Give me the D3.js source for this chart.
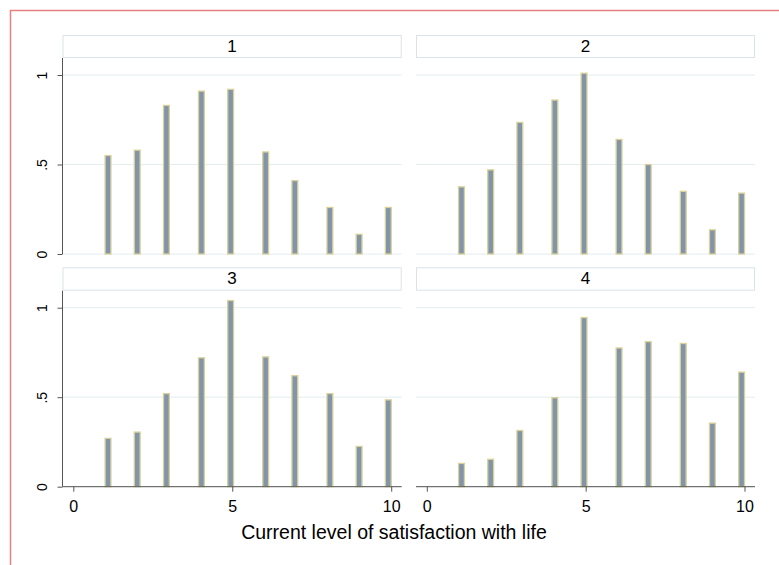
<!DOCTYPE html>
<html>
<head>
<meta charset="utf-8">
<script src="https://cdn.jsdelivr.net/npm/d3@7"></script>
<style>
  body { margin: 0; background: #fff; overflow: hidden; }
  text { font-family: "Liberation Sans", Arial, sans-serif; }
</style>
</head>
<body>
<div id="chart"></div>
<script>
// Dati: istogramma (densità) per gruppo, valori 1..10
var groups = ["1", "2", "3", "4"];
var levels = [1, 2, 3, 4, 5, 6, 7, 8, 9, 10];
var dens1 = [0.55, 0.58, 0.83, 0.91, 0.92, 0.57, 0.41, 0.26, 0.11, 0.26];
var dens2 = [0.375, 0.47, 0.735, 0.86, 1.01, 0.64, 0.50, 0.35, 0.135, 0.34];
var dens3 = [0.27, 0.305, 0.52, 0.72, 1.04, 0.725, 0.62, 0.52, 0.225, 0.485];
var dens4 = [0.13, 0.153, 0.314, 0.497, 0.945, 0.775, 0.81, 0.80, 0.355, 0.64];
var seriesValues = [dens1, dens2, dens3, dens4];
var xTicks = [0, 5, 10];
var yTicks = [0, 0.5, 1];
var yTickLabels = ["0", ".5", "1"];
var binStart = 1, binEnd = 10, nBins = 49;

var W = 779, H = 565;
var binW = (binEnd - binStart) / nBins;
function binMid(v) {
  var i = Math.min(nBins - 1, Math.floor((v - binStart) / binW));
  return binStart + (i + 0.5) * binW;
}

var svg = d3.select("#chart").append("svg")
  .attr("width", W).attr("height", H)
  .style("display", "block");

// bordo rosso esterno
svg.append("rect")
  .attr("x", 10.5).attr("y", 10.5)
  .attr("width", 900).attr("height", 700)
  .attr("fill", "none")
  .attr("stroke", "#e87f80")
  .attr("stroke-width", 1.5);

var cols = [[62.5, 401.7], [416, 755]];
var rows = [{head: 35, top: 58, bottom: 254}, {head: 267.3, top: 290.7, bottom: 486.7}];

groups.forEach(function(g, k) {
  var c = cols[k % 2], r = rows[Math.floor(k / 2)];
  var x = d3.scaleLinear().domain([-0.34, 10.33]).range(c);
  var y = d3.scaleLinear().domain([0, 1.095]).range([r.bottom, r.top]);
  var p = svg.append("g");

  // intestazione del pannello
  p.append("rect")
    .attr("x", c[0] + 0.5).attr("y", r.head + 0.5)
    .attr("width", c[1] - c[0] - 1).attr("height", r.top - r.head - 1)
    .attr("fill", "#fff")
    .attr("stroke", "#d9e4ea");
  p.append("text")
    .attr("x", (c[0] + c[1]) / 2).attr("y", r.head + 16.8)
    .attr("text-anchor", "middle")
    .style("font-size", "17px")
    .text(g);

  // griglia
  p.selectAll(".grid").data(yTicks).enter().append("line")
    .attr("x1", c[0]).attr("x2", c[1])
    .attr("y1", function(d) { return y(d); })
    .attr("y2", function(d) { return y(d); })
    .attr("stroke", "#e3ecef")
    .attr("stroke-width", 1);

  // barre
  p.selectAll(".bar").data(levels).enter().append("rect")
    .attr("x", function(d) { return x(binMid(d) - binW / 2); })
    .attr("width", x(binW) - x(0))
    .attr("y", function(d, i) { return y(seriesValues[k][i]); })
    .attr("height", function(d, i) { return y(0) - y(seriesValues[k][i]); })
    .attr("fill", "#8194ab")
    .attr("stroke", "#d9d196")
    .attr("stroke-width", 1.3);

  // asse Y solo a sinistra
  if (k % 2 === 0) {
    var ay = p.append("g")
      .attr("transform", "translate(" + c[0] + ",0)")
      .call(d3.axisLeft(y).tickValues(yTicks).tickSize(5).tickFormat(function(d, i) { return yTickLabels[i]; }));
    ay.select(".domain").attr("stroke", "#555").attr("d", "M0," + r.top + "V" + r.bottom);
    ay.selectAll(".tick line").attr("stroke", "#555");
    ay.selectAll(".tick text")
      .attr("transform", "rotate(-90)")
      .attr("x", 0).attr("y", -16)
      .attr("dy", "0")
      .attr("text-anchor", "middle")
      .attr("font-size", 14)
      .style("font-size", "14px")
      .attr("fill", "#000");
  }

  // asse X solo in basso
  if (k >= 2) {
    var ax = p.append("g")
      .attr("transform", "translate(0," + r.bottom + ")")
      .call(d3.axisBottom(x).tickValues(xTicks).tickSize(5).tickFormat(d3.format("d")));
    ax.select(".domain").attr("stroke", "#555").attr("d", "M" + c[0] + ",0H" + c[1]);
    ax.selectAll(".tick line").attr("stroke", "#555");
    ax.selectAll(".tick text")
      .attr("y", 25)
      .attr("dy", "0")
      .style("font-size", "16px")
      .attr("fill", "#000");
  }
});

// titolo asse X
svg.append("text")
  .attr("x", 394)
  .attr("y", 538.5)
  .attr("text-anchor", "middle")
  .style("font-size", "19.5px")
  .text("Current level of satisfaction with life");
</script>
</body>
</html>
